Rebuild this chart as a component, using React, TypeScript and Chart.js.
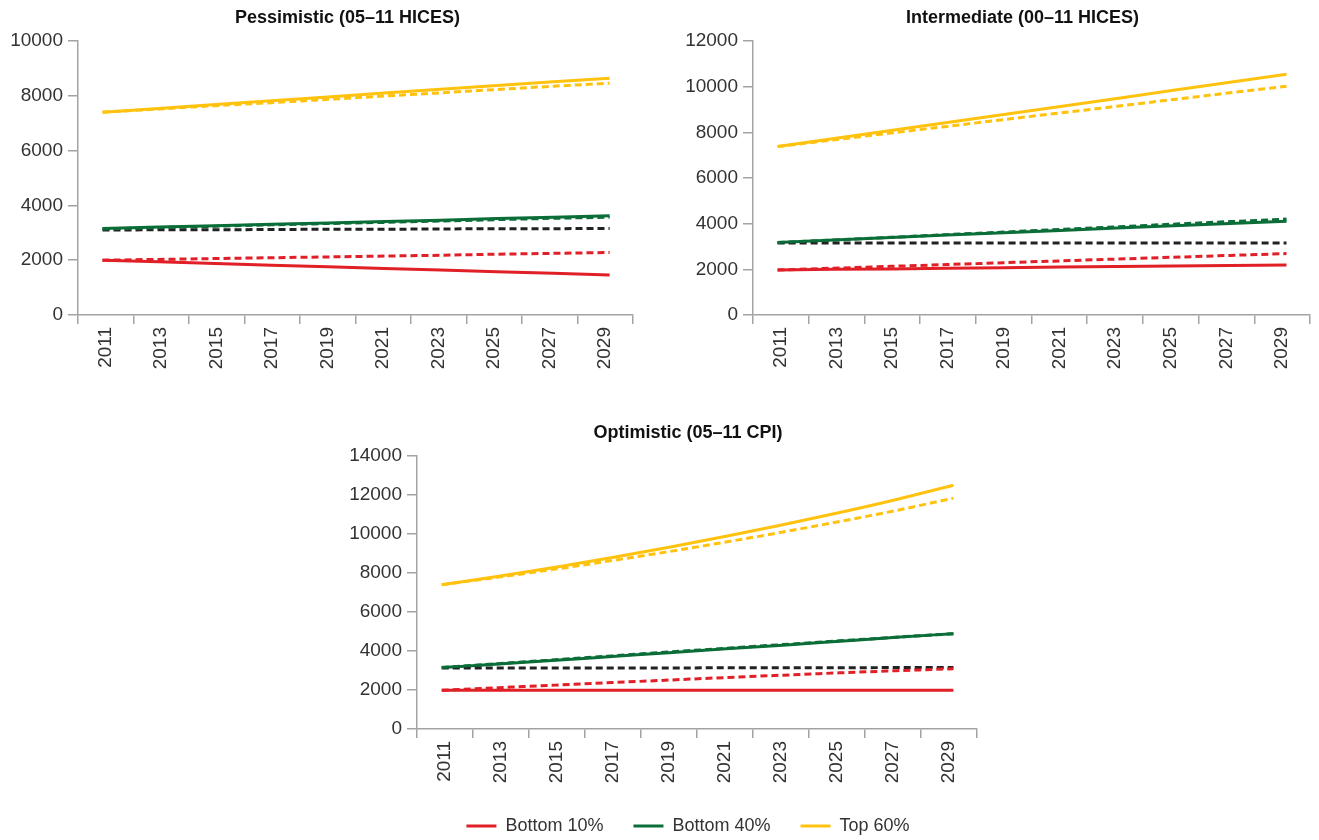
import React, { useEffect, useRef } from 'react';
import { Chart, registerables } from 'chart.js';

Chart.register(...registerables);

// ---------- data ----------
const YEARS = [2011, 2013, 2015, 2017, 2019, 2021, 2023, 2025, 2027, 2029];
const X_LABELS = ['2011', '2013', '2015', '2017', '2019', '2021', '2023', '2025', '2027', '2029'];
const LEGEND_LABELS = ['Bottom 10%', 'Bottom 40%', 'Top 60%'];

// Pessimistic (05–11 HICES)
const PES_RED = [2000, 1940, 1880, 1820, 1760, 1700, 1640, 1580, 1520, 1460];
const PES_RED_D = [2000, 2030, 2060, 2090, 2120, 2150, 2180, 2220, 2250, 2280];
const PES_GREEN = [3160, 3210, 3260, 3310, 3360, 3410, 3460, 3520, 3570, 3620];
const PES_GREEN_D = [3140, 3190, 3240, 3290, 3340, 3380, 3430, 3480, 3530, 3570];
const PES_YELLOW = [7400, 7540, 7680, 7820, 7960, 8100, 8240, 8380, 8510, 8640];
const PES_YELLOW_D = [7400, 7520, 7640, 7750, 7870, 7990, 8110, 8230, 8350, 8460];
const PES_BLACK = [3100, 3110, 3110, 3120, 3130, 3130, 3140, 3150, 3150, 3160];

// Intermediate (00–11 HICES)
const INT_RED = [1970, 2000, 2020, 2050, 2070, 2100, 2120, 2150, 2170, 2190];
const INT_RED_D = [1970, 2050, 2130, 2210, 2290, 2370, 2450, 2530, 2610, 2690];
const INT_GREEN = [3170, 3280, 3390, 3500, 3600, 3700, 3810, 3910, 4010, 4110];
const INT_GREEN_D = [3170, 3290, 3400, 3520, 3630, 3750, 3860, 3980, 4090, 4200];
const INT_YELLOW = [7380, 7730, 8080, 8430, 8780, 9130, 9480, 9840, 10190, 10540];
const INT_YELLOW_D = [7380, 7670, 7970, 8260, 8560, 8850, 9140, 9440, 9730, 10020];
const INT_BLACK = [3150, 3150, 3150, 3150, 3150, 3150, 3150, 3150, 3150, 3150];

// Optimistic (05–11 CPI)
const OPT_RED = [1990, 1990, 1990, 1990, 1990, 1990, 1990, 1990, 1990, 1990];
const OPT_RED_D = [1990, 2120, 2250, 2380, 2510, 2640, 2760, 2880, 2990, 3090];
const OPT_GREEN = [3150, 3330, 3520, 3720, 3910, 4110, 4300, 4500, 4700, 4890];
const OPT_GREEN_D = [3150, 3350, 3550, 3750, 3950, 4140, 4330, 4520, 4710, 4890];
const OPT_YELLOW = [7400, 7830, 8300, 8790, 9320, 9880, 10470, 11100, 11770, 12500];
const OPT_YELLOW_D = [7400, 7790, 8200, 8640, 9100, 9590, 10100, 10640, 11210, 11840];
const OPT_BLACK = [3130, 3130, 3130, 3130, 3130, 3140, 3140, 3140, 3150, 3150];

// ---------- style ----------
const RED = '#e01f26';
const GREEN = '#0b6e38';
const YELLOW = '#ffc20e';
const BLACK = '#222222';
const AXIS = '#a3a3a3';
const TEXT = '#333333';
const FONT = "'Liberation Sans', Arial, Helvetica, sans-serif";
const X_MIN = 2010.13;
const X_MAX = 2029.83;

type Panel = {
  title: string;
  red: number[]; redD: number[]; green: number[]; greenD: number[];
  yellow: number[]; yellowD: number[]; black: number[];
  yMax: number;
  curved: boolean;
  left: number; top: number; width: number; height: number;
  pad: { left: number; right: number; top: number; bottom: number };
  yW: number; rightW: number; xH: number; legend: boolean;
};

function pts(vals: number[]) {
  return YEARS.map((y, i) => ({ x: y, y: vals[i] }));
}

function ChartPanel(p: Panel) {
  const ref = useRef<HTMLCanvasElement | null>(null);
  useEffect(() => {
    if (!ref.current) return;
    const mk = (label: string, vals: number[], color: string, dashed: boolean) => ({
      label,
      data: pts(vals),
      borderColor: color,
      backgroundColor: color,
      borderWidth: 3,
      borderDash: dashed ? [7, 4] : [],
      pointRadius: 0,
      fill: false,
      tension: 0,
      cubicInterpolationMode: p.curved ? ('monotone' as const) : ('default' as const),
      yAxisID: 'y',
    });
    const chart = new Chart(ref.current, {
      type: 'line',
      data: {
        datasets: [
          mk('Top 60% (dashed)', p.yellowD, YELLOW, true),
          mk('Bottom 40% (dashed)', p.greenD, GREEN, true),
          mk('Bottom 10% (dashed)', p.redD, RED, true),
          mk('Reference', p.black, BLACK, true),
          mk('Top 60%', p.yellow, YELLOW, false),
          mk('Bottom 40%', p.green, GREEN, false),
          mk('Bottom 10%', p.red, RED, false),
        ],
      },
      options: {
        responsive: false,
        animation: false,
        events: [],
        layout: { padding: p.pad },
        scales: {
          x: {
            type: 'linear',
            min: X_MIN,
            max: X_MAX,
            afterBuildTicks: (s: any) => {
              s.ticks = Array.from({ length: 21 }, (_, i) => ({ value: X_MIN + (i * (X_MAX - X_MIN)) / 20 }));
            },
            afterFit: (s: any) => { s.height = p.xH; },
            grid: {
              drawOnChartArea: false,
              drawTicks: true,
              tickLength: 9,
              lineWidth: 1.5,
              color: (c: any) => (c.index % 2 === 0 ? AXIS : 'rgba(0,0,0,0)'),
            },
            border: { display: true, color: AXIS, width: 1.5 },
            ticks: {
              autoSkip: false,
              maxRotation: 90,
              minRotation: 90,
              padding: 3,
              color: TEXT,
              font: { family: FONT, size: 19 },
              callback: (_v: any, i: number) => (i % 2 === 1 ? X_LABELS[(i - 1) / 2] : ''),
            },
          },
          y: {
            position: 'left',
            min: 0,
            max: p.yMax,
            afterFit: (s: any) => { s.width = p.yW; },
            ticks: {
              stepSize: 2000,
              padding: 5,
              color: TEXT,
              font: { family: FONT, size: 19 },
              callback: (v: any) => String(v),
            },
            grid: { drawOnChartArea: false, drawTicks: true, tickLength: 10, color: AXIS, lineWidth: 1.5 },
            border: { display: true, color: AXIS, width: 1.5 },
          },
          spacer: {
            position: 'right',
            display: true,
            afterFit: (s: any) => { s.width = p.rightW; },
            grid: { display: false, drawTicks: false },
            border: { display: false },
            ticks: { display: false },
          },
        },
        plugins: {
          tooltip: { enabled: false },
          title: {
            display: true,
            text: p.title,
            color: '#111111',
            font: { family: FONT, size: 18, weight: 'bold', lineHeight: 1.2 },
            padding: { top: 0, bottom: 12.4 },
          },
          legend: {
            display: p.legend,
            position: 'bottom',
            labels: {
              boxWidth: 30,
              boxHeight: 3,
              padding: 30,
              color: TEXT,
              font: { family: FONT, size: 18 },
              generateLabels: () =>
                LEGEND_LABELS.map((t, i) => ({
                  text: t,
                  fillStyle: [RED, GREEN, YELLOW][i],
                  strokeStyle: [RED, GREEN, YELLOW][i],
                  lineWidth: 0,
                  hidden: false,
                  fontColor: TEXT,
                })),
            },
          },
        },
      } as any,
    });
    return () => chart.destroy();
  }, []);
  return (
    <canvas
      ref={ref}
      width={p.width}
      height={p.height}
      style={{ position: 'absolute', left: p.left, top: p.top, width: p.width, height: p.height }}
    />
  );
}

export default function App() {
  return (
    <div style={{ position: 'absolute', left: 0, top: 0, width: 1319, height: 840, overflow: 'hidden', background: '#fff' }}>
      <ChartPanel
        title="Pessimistic (05–11 HICES)"
        red={PES_RED} redD={PES_RED_D} green={PES_GREEN} greenD={PES_GREEN_D}
        yellow={PES_YELLOW} yellowD={PES_YELLOW_D} black={PES_BLACK}
        yMax={10000} curved={false}
        left={0} top={0} width={695} height={390}
        pad={{ left: 8, right: 8, top: 7, bottom: 10 }}
        yW={70} rightW={54} xH={65} legend={false}
      />
      <ChartPanel
        title="Intermediate (00–11 HICES)"
        red={INT_RED} redD={INT_RED_D} green={INT_GREEN} greenD={INT_GREEN_D}
        yellow={INT_YELLOW} yellowD={INT_YELLOW_D} black={INT_BLACK}
        yMax={12000} curved={false}
        left={660} top={0} width={710} height={390}
        pad={{ left: 23, right: 8, top: 7, bottom: 10 }}
        yW={70} rightW={52} xH={65} legend={false}
      />
      <ChartPanel
        title="Optimistic (05–11 CPI)"
        red={OPT_RED} redD={OPT_RED_D} green={OPT_GREEN} greenD={OPT_GREEN_D}
        yellow={OPT_YELLOW} yellowD={OPT_YELLOW_D} black={OPT_BLACK}
        yMax={14000} curved={true}
        left={330} top={400} width={710} height={450}
        pad={{ left: 17, right: 11, top: 22, bottom: 5 }}
        yW={70} rightW={52} xH={58} legend={true}
      />
    </div>
  );
}
